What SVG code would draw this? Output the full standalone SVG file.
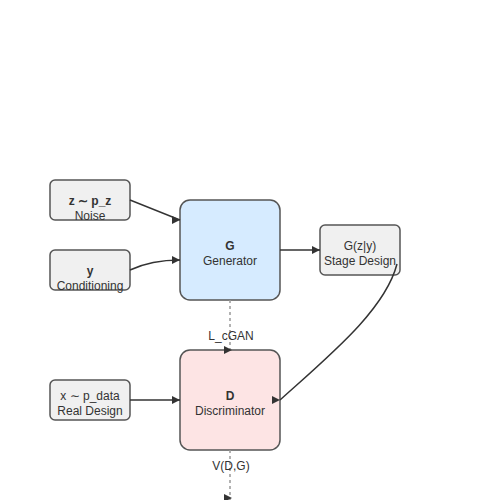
<svg xmlns="http://www.w3.org/2000/svg" width="500" height="500" viewBox="0 0 500 500">
<style>
.box{fill:#f0f0f0;stroke:#555;stroke-width:1.5}
.gen{fill:#d6ebff;stroke:#555;stroke-width:1.5}
.dis{fill:#fde4e4;stroke:#555;stroke-width:1.5}
text{font-family:"Liberation Sans",Arial,sans-serif;font-size:12px;fill:#333;text-anchor:middle}
.b{font-weight:bold}
.edge{fill:none;stroke:#333;stroke-width:1.5}
.dash{fill:none;stroke:#999;stroke-width:1.5;stroke-dasharray:3,3}
</style>
<defs>
<marker id="arr" markerWidth="8" markerHeight="8" refX="8" refY="4" markerUnits="userSpaceOnUse">
<path d="M0,0 L8,4 L0,8 Z" fill="#333"/>
</marker>
</defs>
<rect width="500" height="500" fill="#fff"/>
<g id="noise">
<rect class="box" x="50" y="180" width="80" height="40" rx="5"/>
<text class="b" x="90" y="205">z ∼ p_z</text>
<text x="90" y="220">Noise</text>
</g>
<g id="conditioning">
<rect class="box" x="50" y="250" width="80" height="40" rx="5"/>
<text class="b" x="90" y="275">y</text>
<text x="90" y="290">Conditioning</text>
</g>
<g id="generator">
<rect class="gen" x="180" y="200" width="100" height="100" rx="10"/>
<text class="b" x="230" y="250">G</text>
<text x="230" y="265">Generator</text>
</g>
<g id="stage">
<rect class="box" x="320" y="225" width="80" height="50" rx="5"/>
<text x="360" y="250">G(z|y)</text>
<text x="360" y="265">Stage Design</text>
</g>
<g id="discriminator">
<rect class="dis" x="180" y="350" width="100" height="100" rx="10"/>
<text class="b" x="230" y="400">D</text>
<text x="230" y="415">Discriminator</text>
</g>
<g id="real">
<rect class="box" x="50" y="380" width="80" height="40" rx="5"/>
<text x="90" y="400">x ∼ p_data</text>
<text x="90" y="415">Real Design</text>
</g>
<g id="connectors">
<path class="edge" d="M130,200 L180,220" marker-end="url(#arr)"/>
<path class="edge" d="M130,270 C145,263 160,260 180,260" marker-end="url(#arr)"/>
<path class="edge" d="M280,250 L320,250" marker-end="url(#arr)"/>
<path class="edge" d="M397,264 C385,310 330,355 280,400" marker-end="url(#arr)"/>
<path class="edge" d="M130,400 L180,400" marker-end="url(#arr)"/>
<path class="dash" d="M230,300 L230,350"/>
<path d="M224,346 L232,350 L224,354 Z" fill="#333"/>
<text x="231" y="340">L_cGAN</text>
<path class="dash" d="M230,450 L230,500"/>
<path d="M224,494 L232,498 L224,502 Z" fill="#333"/>
<text x="231" y="470">V(D,G)</text>
</g>
</svg>
